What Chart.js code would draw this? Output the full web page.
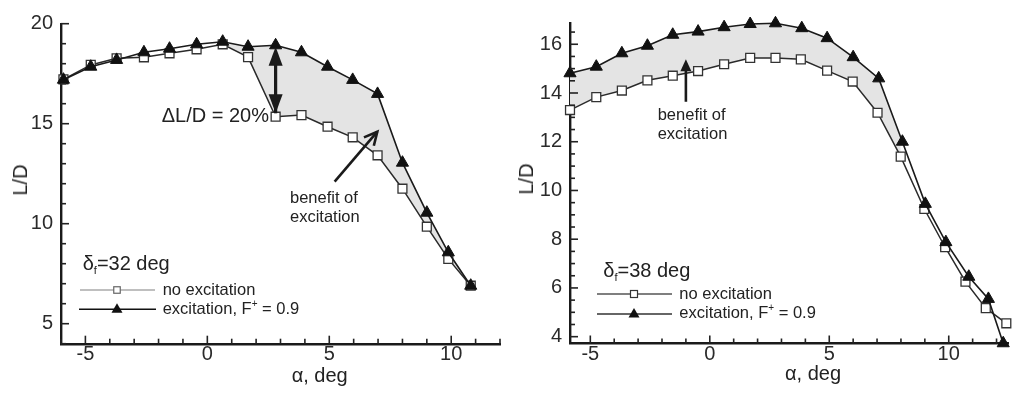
<!DOCTYPE html>
<html lang="en">
<head>
<meta charset="utf-8">
<title>L/D vs angle of attack</title>
<script src="https://cdn.jsdelivr.net/npm/chart.js"></script>
<style>
  body { margin: 0; background: #fff; }
  #wrap { position: relative; width: 1016px; height: 394px; overflow: hidden;
          font-family: 'Liberation Sans', Arial, sans-serif; color: #222; }
  canvas { position: absolute; top: 0; }
  .t { position: absolute; line-height: 1; white-space: nowrap; }
  .big { font-size: 20px; }
  .small { font-size: 16.5px; }
  .note { position: absolute; font-size: 16.5px; line-height: 18.4px; white-space: nowrap; }
  .ylab { position: absolute; font-size: 20px; line-height: 1; white-space: nowrap;
          transform: translate(-50%, -50%) rotate(-90deg); }
  sub { font-size: 11px; vertical-align: -4px; line-height: 0; }
  sup { font-size: 10px; vertical-align: 7px; line-height: 0; }
</style>
</head>
<body>
<div id="wrap">
  <canvas id="left" width="508" height="394" style="left:0"></canvas>
  <canvas id="right" width="508" height="394" style="left:508px"></canvas>

  <div class="t big" style="left:161.7px; top:105.4px">&Delta;L/D = 20%</div>
  <div class="note" style="left:290px; top:188.4px">benefit of<br>excitation</div>
  <div class="t big" style="left:82.7px; top:253.1px">&delta;<sub>f</sub>=32 deg</div>
  <div class="t small" style="left:162.7px; top:281px">no excitation</div>
  <div class="t small" style="left:162.7px; top:300px">excitation, F<sup>+</sup> = 0.9</div>
  <div class="t big" style="left:291.7px; top:365px">&alpha;, deg</div>
  <div class="ylab" style="left:20px; top:180px">L/D</div>

  <div class="note" style="left:657.7px; top:105.1px">benefit of<br>excitation</div>
  <div class="t big" style="left:603.3px; top:260.4px">&delta;<sub>f</sub>=38 deg</div>
  <div class="t small" style="left:679.3px; top:285.3px">no excitation</div>
  <div class="t small" style="left:679.3px; top:304.3px">excitation, F<sup>+</sup> = 0.9</div>
  <div class="t big" style="left:785px; top:363px">&alpha;, deg</div>
  <div class="ylab" style="left:525.5px; top:179px">L/D</div>
</div>

<script>
// delta_f = 32 deg
const leftAlpha = [-5.9, -4.78, -3.72, -2.6, -1.55, -0.44, 0.63, 1.67, 2.8, 3.86, 4.93, 5.96, 6.98, 8.0, 9.0, 9.88, 10.8];
const leftNoExc = [17.22, 17.94, 18.27, 18.32, 18.52, 18.72, 18.97, 18.33, 15.35, 15.43, 14.85, 14.32, 13.42, 11.75, 9.85, 8.24, 6.9];
const leftExc   = [17.2, 17.85, 18.19, 18.57, 18.75, 18.97, 19.1, 18.85, 18.92, 18.57, 17.85, 17.19, 16.49, 13.05, 10.55, 8.57, 6.9];

// delta_f = 38 deg
const rightAlphaNoExc = [-5.85, -4.75, -3.68, -2.61, -1.55, -0.49, 0.6, 1.69, 2.75, 3.81, 4.91, 5.98, 7.02, 7.99, 8.98, 9.85, 10.7, 11.55, 12.41];
const rightNoExc      = [13.3, 13.83, 14.1, 14.52, 14.71, 14.9, 15.18, 15.44, 15.44, 15.38, 14.92, 14.47, 13.19, 11.39, 9.24, 7.67, 6.26, 5.17, 4.55];
const rightAlphaExc   = [-5.85, -4.75, -3.68, -2.61, -1.55, -0.49, 0.6, 1.69, 2.75, 3.85, 4.91, 6.0, 7.07, 8.06, 9.02, 9.88, 10.84, 11.66, 12.28];
const rightExc        = [14.81, 15.08, 15.63, 15.94, 16.39, 16.52, 16.7, 16.83, 16.86, 16.66, 16.25, 15.47, 14.6, 12.0, 9.45, 7.88, 6.46, 5.55, 3.73];

// tick labels
const leftXLabels = [-5, 0, 5, 10];
const leftYLabels = [5, 10, 15, 20];
const rightXLabels = [-5, 0, 5, 10];
const rightYLabels = [4, 6, 8, 10, 12, 14, 16];

Chart.defaults.font.family = "'Liberation Sans', Arial, sans-serif";
Chart.defaults.color = '#2a2a2a';

function range(a, b, step) {
  const out = [];
  for (let k = 0; a + k * step <= b + 1e-9; k++) out.push(+(a + k * step).toFixed(2));
  return out;
}
function pts(xs, ys) {
  return xs.map((x, i) => ({ x: x, y: ys[i] }));
}

// tick marks drawn inward, like the original plot
const innerTicks = {
  id: 'innerTicks',
  afterDatasetsDraw(chart, args, opts) {
    const ctx = chart.ctx;
    ctx.save();
    ctx.strokeStyle = '#222';
    ctx.lineWidth = 1.6;
    ['x', 'y'].forEach(id => {
      const s = chart.scales[id];
      const major = opts[id + 'Major'];
      s.ticks.forEach(t => {
        const p = s.getPixelForValue(t.value);
        const len = major.includes(t.value) ? 8 : 5;
        ctx.beginPath();
        if (id === 'x') { ctx.moveTo(p, s.top); ctx.lineTo(p, s.top - len); }
        else { ctx.moveTo(s.right, p); ctx.lineTo(s.right + len, p); }
        ctx.stroke();
      });
    });
    ctx.restore();
  }
};

function head(ctx, tx, ty, ang, len, half, style) {
  const bx = tx - Math.cos(ang) * len, by = ty - Math.sin(ang) * len;
  const nx = -Math.sin(ang) * half, ny = Math.cos(ang) * half;
  ctx.beginPath();
  ctx.moveTo(bx + nx, by + ny);
  ctx.lineTo(tx, ty);
  ctx.lineTo(bx - nx, by - ny);
  if (style === 'filled') { ctx.closePath(); ctx.fill(); } else { ctx.stroke(); }
}

// arrows (in data coordinates) and legend samples
const decor = {
  id: 'decor',
  afterDatasetsDraw(chart, args, o) {
    const { ctx, scales: { x, y } } = chart;
    ctx.save();
    ctx.strokeStyle = '#1a1a1a';
    ctx.fillStyle = '#1a1a1a';
    ctx.lineCap = 'butt';
    (o.arrows || []).forEach(a => {
      const x0 = x.getPixelForValue(a.from[0]), y0 = y.getPixelForValue(a.from[1]);
      const x1 = x.getPixelForValue(a.to[0]), y1 = y.getPixelForValue(a.to[1]);
      const ang = Math.atan2(y1 - y0, x1 - x0);
      ctx.lineWidth = a.width;
      ctx.beginPath();
      ctx.moveTo(x0, y0);
      ctx.lineTo(x1 - Math.cos(ang) * (a.style === 'filled' ? a.len * 0.6 : 0), y1 - Math.sin(ang) * (a.style === 'filled' ? a.len * 0.6 : 0));
      ctx.stroke();
      head(ctx, x1, y1, ang, a.len, a.half, a.style);
      if (a.both) head(ctx, x0, y0, ang + Math.PI, a.len, a.half, a.style);
    });
    (o.legend || []).forEach(l => {
      ctx.strokeStyle = l.color;
      ctx.lineWidth = 1.4;
      ctx.beginPath();
      ctx.moveTo(l.x0, l.y); ctx.lineTo(l.x1, l.y);
      ctx.stroke();
      if (l.marker === 'square') {
        ctx.fillStyle = '#fff';
        ctx.strokeStyle = l.mcolor;
        ctx.lineWidth = 1.2;
        ctx.fillRect(l.mx - l.ms / 2, l.y - l.ms / 2, l.ms, l.ms);
        ctx.strokeRect(l.mx - l.ms / 2, l.y - l.ms / 2, l.ms, l.ms);
      } else {
        ctx.fillStyle = l.mcolor;
        ctx.beginPath();
        ctx.moveTo(l.mx, l.y - l.ms * 0.6);
        ctx.lineTo(l.mx + l.ms * 0.55, l.y + l.ms * 0.35);
        ctx.lineTo(l.mx - l.ms * 0.55, l.y + l.ms * 0.35);
        ctx.closePath();
        ctx.fill();
      }
    });
    ctx.restore();
  }
};

function makePanel(id, p) {
  const shade = '#e4e4e4';
  return new Chart(document.getElementById(id), {
    type: 'line',
    data: {
      datasets: [
        { label: 'fill top', data: pts(p.xe.slice(p.f0, p.f1), p.exc.slice(p.f0, p.f1)),
          order: 5, borderWidth: 0, borderColor: 'rgba(0,0,0,0)', pointRadius: 0, fill: false },
        { label: 'fill bottom', data: pts(p.xn.slice(p.f0, p.f1), p.noexc.slice(p.f0, p.f1)),
          order: 4, borderWidth: 0, borderColor: 'rgba(0,0,0,0)', pointRadius: 0,
          fill: 0, backgroundColor: shade },
        { label: 'no excitation', data: pts(p.xn, p.noexc), order: 2, clip: false,
          borderColor: '#2a2a2a', borderWidth: 1.5, tension: 0, fill: false,
          pointStyle: 'rect', pointRadius: 6.3, pointBorderWidth: 1.3,
          pointBorderColor: '#333', pointBackgroundColor: '#fff' },
        { label: 'excitation, F+ = 0.9', data: pts(p.xe, p.exc), order: 1, clip: false,
          borderColor: '#1a1a1a', borderWidth: 1.6, tension: 0, fill: false,
          pointStyle: 'triangle', pointRadius: 7, pointBorderWidth: 1,
          pointBorderColor: '#111', pointBackgroundColor: '#111' }
      ]
    },
    options: {
      responsive: false,
      animation: false,
      events: [],
      layout: { padding: { top: p.top, right: p.right, left: 0, bottom: 0 } },
      scales: {
        x: {
          type: 'linear', min: p.xmin, max: p.xmax,
          afterFit: s => { s.height = p.xh; },
          afterBuildTicks: s => { s.ticks = p.xticks.map(v => ({ value: v })); },
          border: { display: true, color: '#1a1a1a', width: 2.4 },
          grid: { display: true, drawOnChartArea: false, drawTicks: false },
          ticks: { autoSkip: false, maxRotation: 0, padding: 1,
                   font: { size: 20, lineHeight: 1 }, color: '#2a2a2a',
                   callback: v => p.xlab.includes(v) ? String(v) : '' }
        },
        y: {
          type: 'linear', min: p.ymin, max: p.ymax,
          afterFit: s => { s.width = p.yw; },
          afterBuildTicks: s => { s.ticks = p.yticks.map(v => ({ value: v })); },
          border: { display: true, color: '#1a1a1a', width: 2.4 },
          grid: { display: true, drawOnChartArea: false, drawTicks: false },
          ticks: { autoSkip: false, padding: 8,
                   font: { size: 20, lineHeight: 1 }, color: '#2a2a2a',
                   callback: v => p.ylab.includes(v) ? String(v) : '' }
        }
      },
      plugins: {
        legend: { display: false },
        tooltip: { enabled: false },
        innerTicks: { xMajor: p.xlab, yMajor: p.ylab },
        decor: { arrows: p.arrows, legend: p.legend }
      }
    },
    plugins: [innerTicks, decor]
  });
}

makePanel('left', {
  xn: leftAlpha, xe: leftAlpha, noexc: leftNoExc, exc: leftExc, f0: 6, f1: 17,
  xmin: -6, xmax: 12, ymin: 4, ymax: 20,
  xticks: range(-6, 12, 1), yticks: range(4, 20, 1),
  xlab: leftXLabels, ylab: leftYLabels,
  top: 23.7, right: 2, yw: 61, xh: 50.3,
  arrows: [
    { from: [2.8, 15.52], to: [2.8, 18.85], width: 3.2, len: 19, half: 7, style: 'filled', both: true },
    { from: [5.22, 12.1], to: [6.97, 14.6], width: 2.6, len: 13, half: 6.5, style: 'open' }
  ],
  legend: [
    { y: 290, x0: 80, x1: 155, color: '#aaa', marker: 'square', mx: 117, ms: 6.5, mcolor: '#666' },
    { y: 309.3, x0: 79, x1: 156, color: '#111', marker: 'triangle', mx: 117, ms: 10, mcolor: '#111' }
  ]
});

makePanel('right', {
  xn: rightAlphaNoExc, xe: rightAlphaExc, noexc: rightNoExc, exc: rightExc, f0: 0, f1: 14,
  xmin: -5.85, xmax: 12.48, ymin: 3.72, ymax: 16.86,
  xticks: range(-5, 12, 1), yticks: range(4, 16.5, 0.5),
  xlab: rightXLabels, ylab: rightYLabels,
  top: 23.3, right: 0, yw: 62, xh: 50.5,
  arrows: [
    { from: [-1.0, 13.64], to: [-1.0, 15.38], width: 2.6, len: 12, half: 5.5, style: 'filled' }
  ],
  legend: [
    { y: 294, x0: 89, x1: 164, color: '#555', marker: 'square', mx: 126, ms: 7, mcolor: '#333' },
    { y: 314, x0: 89, x1: 164, color: '#333', marker: 'triangle', mx: 126, ms: 10, mcolor: '#111' }
  ]
});
</script>
</body>
</html>
